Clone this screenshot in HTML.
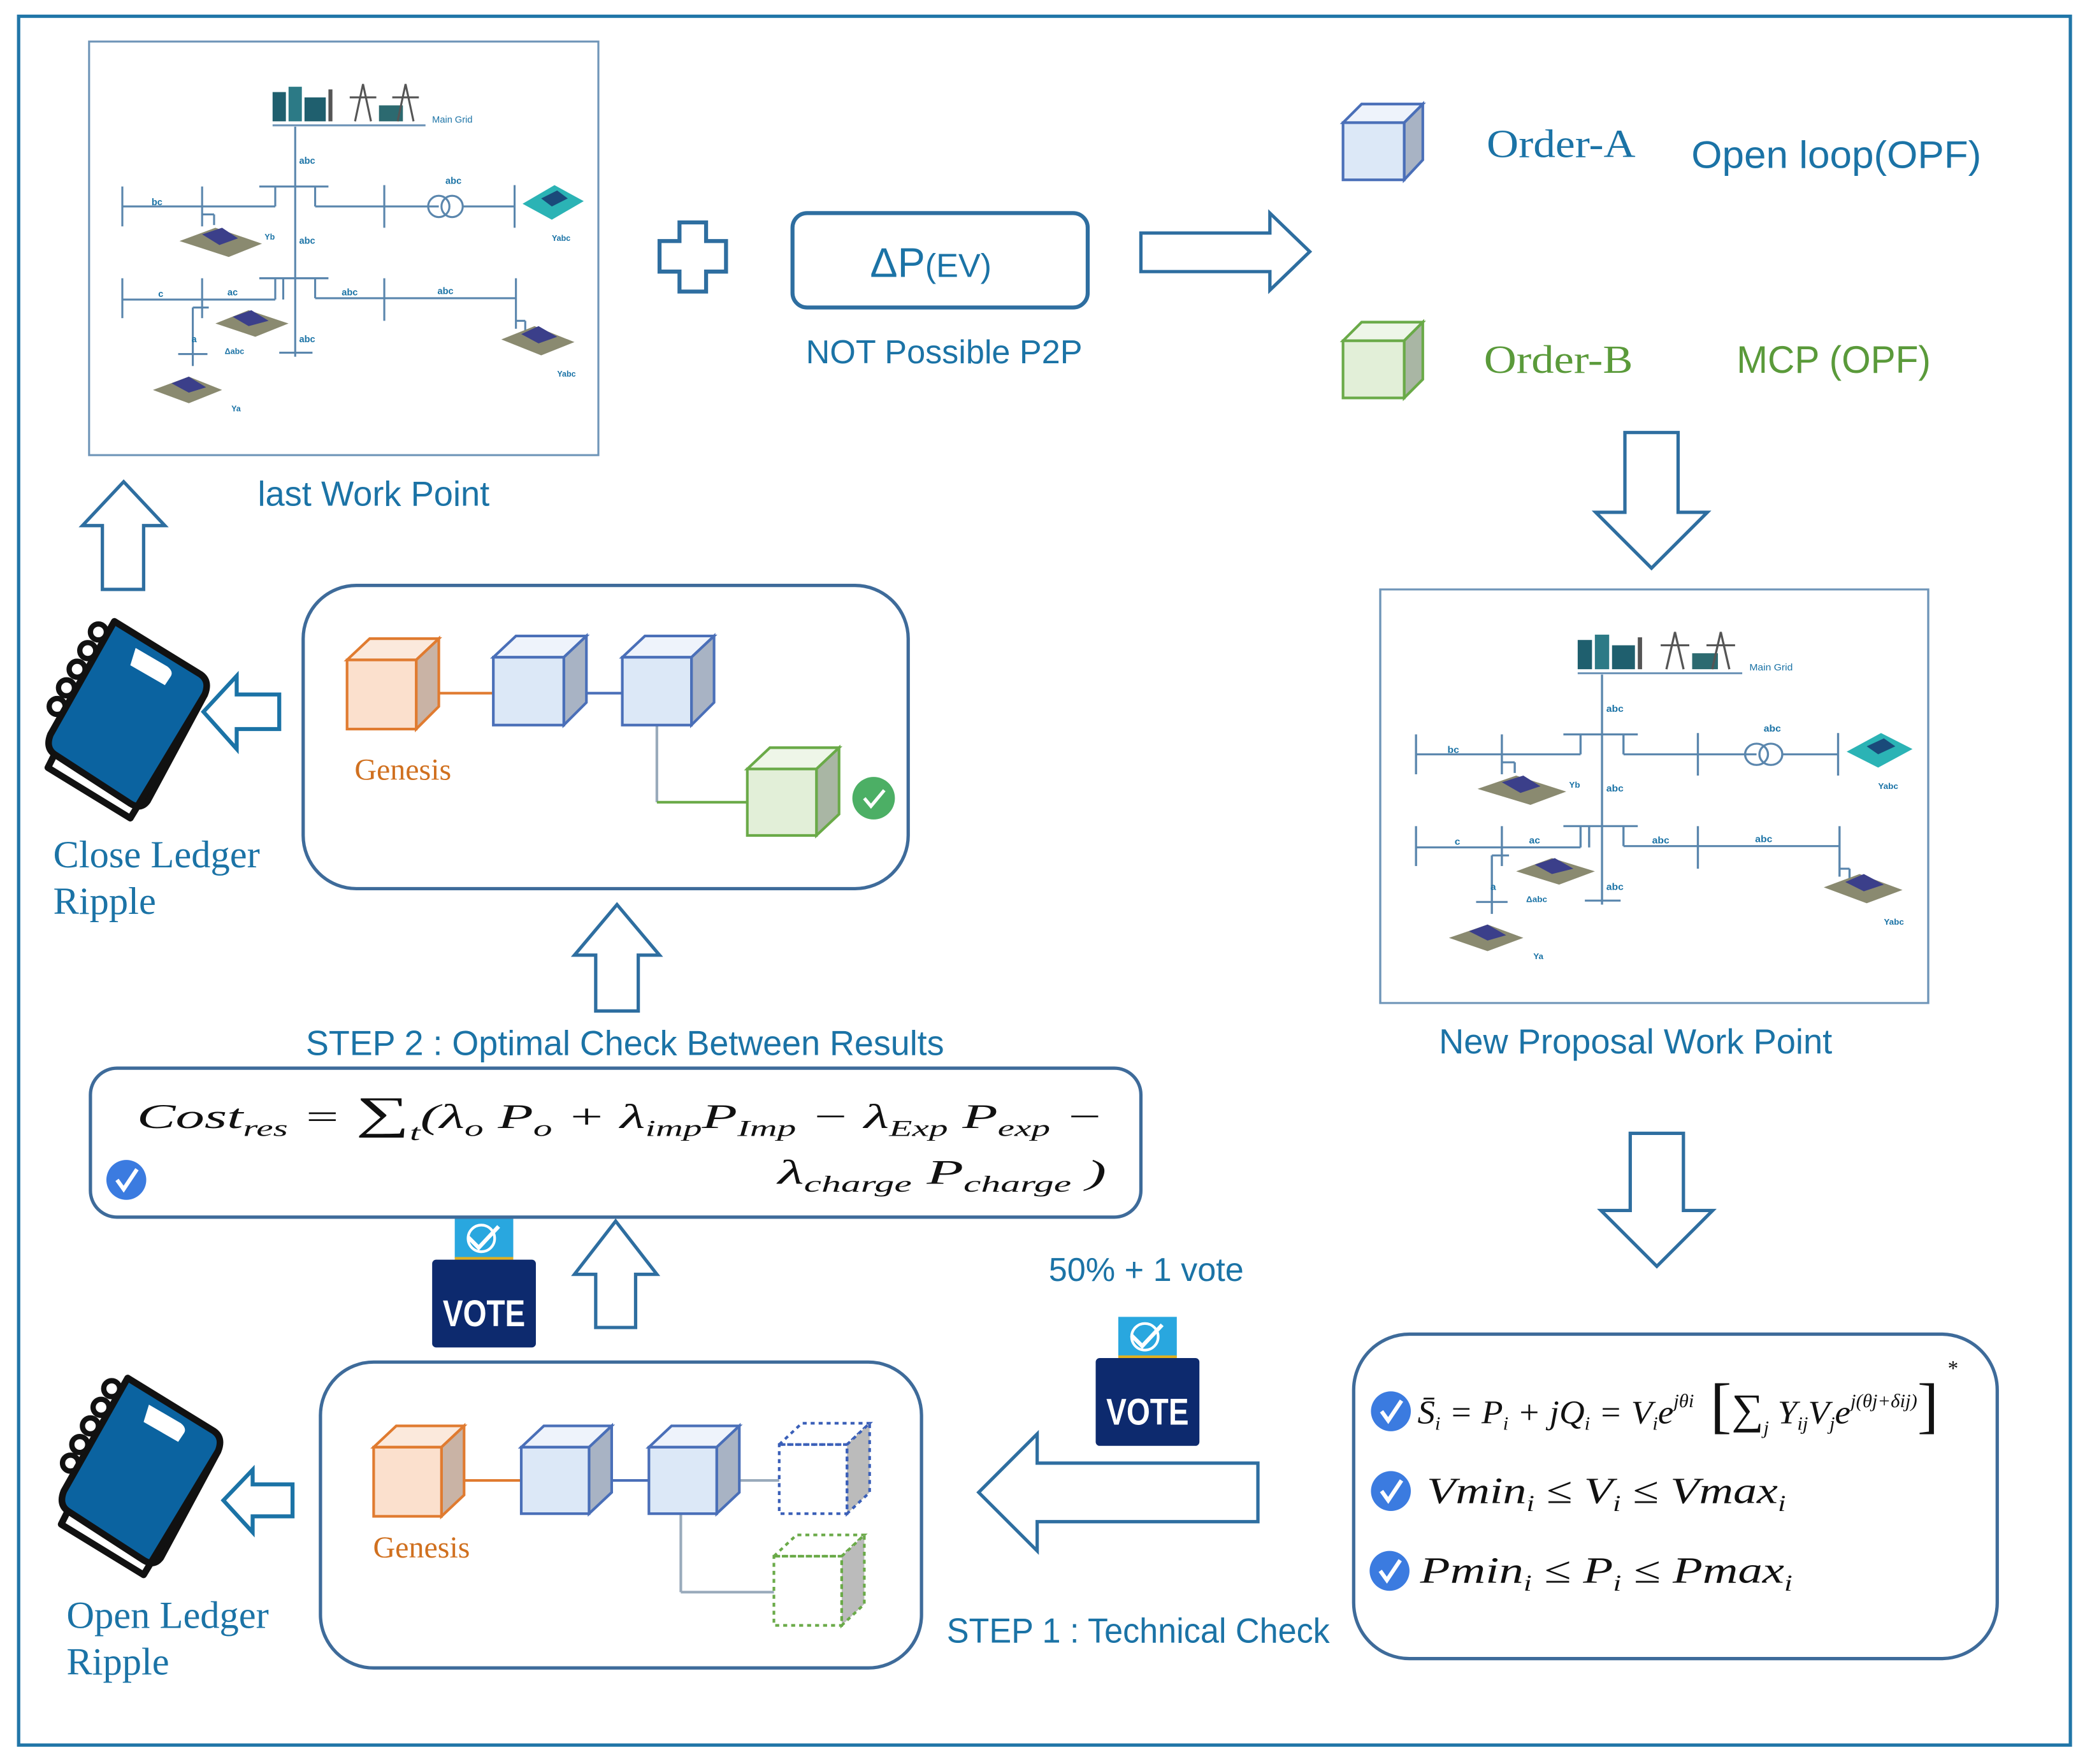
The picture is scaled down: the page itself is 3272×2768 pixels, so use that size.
<!DOCTYPE html>
<html><head><meta charset="utf-8"><style>
html,body{margin:0;padding:0;background:#fff}
svg{display:block}
.s{font-family:"Liberation Sans",sans-serif;fill:#1b73a6}
.r{font-family:"Liberation Serif",serif}
.m{font-family:"Liberation Serif",serif;font-style:italic;fill:#111}
.g{font-family:"Liberation Sans",sans-serif;fill:#1b73a6;font-size:7px;font-weight:bold}
</style></head><body>
<svg width="3272" height="2768" viewBox="0 0 1568 1326" xmlns="http://www.w3.org/2000/svg">
<defs>
<g id="grid">
  <rect x="0" y="0" width="383" height="311" fill="#fff" stroke="#6f95b8" stroke-width="1.5"/>
  <rect x="138" y="38" width="10" height="22" fill="#1f5f6e"/><rect x="150" y="34" width="10" height="26" fill="#2c7a86"/>
  <rect x="162" y="42" width="16" height="18" fill="#1f5f6e"/><rect x="180" y="36" width="3" height="24" fill="#555"/>
  <path d="M200 60 L206 32 L212 60 M196 42 L216 42" stroke="#555" fill="none" stroke-width="1.5"/>
  <rect x="218" y="48" width="18" height="12" fill="#2c6a70"/>
  <path d="M232 60 L238 32 L244 60 M228 42 L248 42" stroke="#555" fill="none" stroke-width="1.5"/>
  <line x1="138" y1="63" x2="253" y2="63" stroke="#6f95b8" stroke-width="1.5"/>
  <text x="258" y="61" class="g" style="font-weight:normal">Main Grid</text>
  <g stroke="#5a86ad" stroke-width="1.5" fill="none">
    <line x1="155" y1="64" x2="155" y2="237"/>
    <line x1="128" y1="109" x2="180" y2="109"/>
    <line x1="25" y1="109" x2="25" y2="139"/><line x1="85" y1="109" x2="85" y2="139"/>
    <line x1="25" y1="124" x2="140" y2="124"/><line x1="140" y1="124" x2="140" y2="109"/>
    <line x1="85" y1="130" x2="94" y2="130"/><line x1="94" y1="130" x2="94" y2="138"/>
    <line x1="170" y1="109" x2="170" y2="124"/><line x1="170" y1="124" x2="263" y2="124"/>
    <line x1="222" y1="108" x2="222" y2="140"/>
    <circle cx="263" cy="124" r="8"/><circle cx="273" cy="124" r="8"/>
    <line x1="281" y1="124" x2="320" y2="124"/><line x1="320" y1="108" x2="320" y2="140"/>
    <line x1="128" y1="178" x2="180" y2="178"/>
    <line x1="25" y1="178" x2="25" y2="208"/><line x1="85" y1="178" x2="85" y2="208"/>
    <line x1="25" y1="194" x2="140" y2="194"/><line x1="140" y1="194" x2="140" y2="178"/><line x1="146" y1="194" x2="146" y2="178"/>
    <line x1="170" y1="178" x2="170" y2="193"/><line x1="170" y1="193" x2="321" y2="193"/>
    <line x1="222" y1="178" x2="222" y2="210"/><line x1="321" y1="178" x2="321" y2="216"/>
    <line x1="321" y1="210" x2="328" y2="210"/><line x1="328" y1="210" x2="328" y2="218"/>
    <line x1="90" y1="200" x2="78" y2="200"/><line x1="78" y1="200" x2="78" y2="235"/>
    <line x1="67" y1="235" x2="89" y2="235"/><line x1="78" y1="235" x2="78" y2="244"/>
    <line x1="143" y1="234" x2="168" y2="234"/>
  </g>
  <g>
    <path d="M68 150 L95 140 L130 152 L105 162 Z" fill="#8a8a70"/><path d="M85 145 L100 140 L112 148 L98 153 Z" fill="#3b3f8a"/>
    <path d="M95 212 L120 202 L150 212 L125 222 Z" fill="#8a8a70"/><path d="M108 207 L122 202 L135 210 L120 214 Z" fill="#3b3f8a"/>
    <path d="M48 262 L75 252 L100 262 L75 272 Z" fill="#8a8a70"/><path d="M62 257 L75 252 L88 260 L75 264 Z" fill="#3b3f8a"/>
    <path d="M310 224 L335 214 L365 226 L340 236 Z" fill="#8a8a70"/><path d="M325 220 L338 214 L352 222 L338 227 Z" fill="#3b3f8a"/>
    <path d="M326 122 L350 108 L372 120 L348 134 Z" fill="#2bb3b5"/><path d="M340 118 L352 112 L360 118 L348 124 Z" fill="#1a4a7a"/>
  </g>
  <text x="158" y="92" class="g">abc</text><text x="268" y="107" class="g">abc</text>
  <text x="47" y="123" class="g">bc</text><text x="158" y="152" class="g">abc</text>
  <text x="52" y="192" class="g">c</text><text x="104" y="191" class="g">ac</text>
  <text x="190" y="191" class="g">abc</text><text x="262" y="190" class="g">abc</text>
  <text x="158" y="226" class="g">abc</text><text x="77" y="226" class="g">a</text>
  <text x="132" y="149" class="g" style="font-size:6px">Yb</text><text x="348" y="150" class="g" style="font-size:6px">Yabc</text>
  <text x="102" y="235" class="g" style="font-size:6px">Δabc</text><text x="107" y="278" class="g" style="font-size:6px">Ya</text>
  <text x="352" y="252" class="g" style="font-size:6px">Yabc</text>
</g>
<g id="chk"><circle r="15" fill="#3b7be0"/><path d="M-7 0 L-2 7 L8 -8" stroke="#fff" stroke-width="3" fill="none"/></g>
<g id="book">
  <path d="M50 0 L115 40 Q122 45 118 55 L75 135 Q70 142 62 137 L5 100 Q-2 95 2 85 Z" fill="#0b63a0" stroke="#111" stroke-width="5" stroke-linejoin="round"/>
  <path d="M5 100 L0 110 L62 148 L118 55" fill="none" stroke="#111" stroke-width="5" stroke-linejoin="round"/>
  <path d="M66 20 L90 34 Q95 38 92 42 L88 48 L62 33 Z" fill="#fff"/>
  <g fill="none" stroke="#111" stroke-width="4"><circle cx="38" cy="8" r="6"/><circle cx="30" cy="22" r="6"/><circle cx="22" cy="36" r="6"/><circle cx="14" cy="50" r="6"/><circle cx="7" cy="64" r="6"/></g>
</g>
<g id="vote">
  <rect x="17" y="0" width="44" height="30" fill="#29a7df"/>
  <path d="M27 14 L35 22 L50 6" stroke="#fff" stroke-width="3" fill="none"/>
  <circle cx="37" cy="15" r="10" fill="none" stroke="#fff" stroke-width="2"/>
  <rect x="17" y="29" width="44" height="2" fill="#e0b020"/>
  <rect x="0" y="31" width="78" height="66" rx="3" fill="#0d2a6e"/>
  <text x="39" y="81" text-anchor="middle" font-family="Liberation Sans,sans-serif" font-weight="bold" font-size="28" fill="#fff" textLength="62" lengthAdjust="spacingAndGlyphs">VOTE</text>
</g>
</defs>

<rect x="14" y="12" width="1543" height="1300" fill="none" stroke="#2176a8" stroke-width="2.5"/>

<use href="#grid" transform="translate(67,31)"/>
<use href="#grid" transform="translate(1038,443) scale(1.076,1)"/>
<text x="281" y="380" class="s" font-size="26" text-anchor="middle">last Work Point</text>
<text x="1230" y="792" class="s" font-size="26" text-anchor="middle">New Proposal Work Point</text>

<path d="M511 167 H531 V181 H546 V204 H531 V219 H511 V204 H496 V181 H511 Z" fill="none" stroke="#2e6ea0" stroke-width="3"/>
<rect x="596" y="160" width="222" height="71" rx="11" fill="none" stroke="#2e6ea0" stroke-width="3"/>
<text x="700" y="208" class="s" font-size="31" text-anchor="middle">ΔP<tspan font-size="25">(EV)</tspan></text>
<text x="710" y="273" class="s" font-size="25" text-anchor="middle">NOT Possible P2P</text>
<path d="M858 175 H955 V160 L985 189 L955 218 V204 H858 Z" fill="#fff" stroke="#2e6ea0" stroke-width="2.5"/>

<g stroke="#4a6fb8" stroke-width="2"><path d="M1010 92 L1024 78 L1070 78 L1056 92 Z" fill="#eef3fb"/><path d="M1056 92 L1070 78 L1070 120 L1056 135 Z" fill="#a8b3c4"/><rect x="1010" y="92" width="46" height="43" fill="#dce8f7"/></g>
<g stroke="#6aaa48" stroke-width="2"><path d="M1010 256 L1024 242 L1070 242 L1056 256 Z" fill="#eef6e8"/><path d="M1056 256 L1070 242 L1070 285 L1056 299 Z" fill="#a9b6a4"/><rect x="1010" y="256" width="46" height="43" fill="#e2efd8"/></g>
<text x="1118" y="118" class="r" font-size="30" fill="#1b73a6" textLength="112" lengthAdjust="spacingAndGlyphs">Order-A</text>
<text x="1272" y="126" class="s" font-size="29" textLength="218" lengthAdjust="spacingAndGlyphs">Open loop(OPF)</text>
<text x="1116" y="280" class="r" font-size="30" fill="#5a9a3a" textLength="112" lengthAdjust="spacingAndGlyphs">Order-B</text>
<text x="1306" y="280" font-family="Liberation Sans,sans-serif" font-size="29" fill="#5a9a3a" textLength="146" lengthAdjust="spacingAndGlyphs">MCP (OPF)</text>

<path d="M1222 325 H1262 V385 H1284 L1242 427 L1200 385 H1222 Z" fill="#fff" stroke="#2e6ea0" stroke-width="2.5"/>
<path d="M1226 852 H1266 V910 H1288 L1246 952 L1204 910 H1226 Z" fill="#fff" stroke="#2e6ea0" stroke-width="2.5"/>

<rect x="1018" y="1003" width="484" height="244" rx="42" fill="#fff" stroke="#3e6b9a" stroke-width="2.5"/>
<use href="#chk" transform="translate(1046,1061)"/>
<use href="#chk" transform="translate(1046,1121)"/>
<use href="#chk" transform="translate(1045,1181)"/>
<text x="1066" y="1070" class="m" font-size="25" textLength="392" lengthAdjust="spacingAndGlyphs">S̄<tspan font-size="14" dy="5">i</tspan><tspan dy="-5"> = P</tspan><tspan font-size="14" dy="5">i</tspan><tspan dy="-5"> + jQ</tspan><tspan font-size="14" dy="5">i</tspan><tspan dy="-5"> = V</tspan><tspan font-size="14" dy="5">i</tspan><tspan dy="-5">e</tspan><tspan font-size="14" dy="-12">jθi</tspan><tspan dy="14" font-size="46" font-style="normal"> [</tspan><tspan dy="-2" font-style="normal" font-size="32">∑</tspan><tspan font-size="14" dy="8">j</tspan><tspan dy="-8"> Y</tspan><tspan font-size="14" dy="5">ij</tspan><tspan dy="-5">V</tspan><tspan font-size="14" dy="5">j</tspan><tspan dy="-5">e</tspan><tspan font-size="14" dy="-12">j(θj+δij)</tspan><tspan dy="14" font-size="46" font-style="normal">]</tspan></text>
<text x="1464" y="1034" class="m" font-size="16">*</text>
<text x="1073" y="1130" class="m" font-size="28" textLength="270" lengthAdjust="spacingAndGlyphs">Vmin<tspan font-size="17" dy="6">i</tspan><tspan dy="-6"> ≤ V</tspan><tspan font-size="17" dy="6">i</tspan><tspan dy="-6"> ≤ Vmax</tspan><tspan font-size="17" dy="6">i</tspan></text>
<text x="1068" y="1190" class="m" font-size="28" textLength="280" lengthAdjust="spacingAndGlyphs">Pmin<tspan font-size="17" dy="6">i</tspan><tspan dy="-6"> ≤ P</tspan><tspan font-size="17" dy="6">i</tspan><tspan dy="-6"> ≤ Pmax</tspan><tspan font-size="17" dy="6">i</tspan></text>

<text x="712" y="1235" class="s" font-size="26" textLength="288" lengthAdjust="spacingAndGlyphs">STEP 1 : Technical Check</text>
<path d="M946 1100 V1144 H780 V1166 L736 1122 L780 1078 V1100 Z" fill="#fff" stroke="#2e6ea0" stroke-width="2.5"/>
<text x="862" y="963" class="s" font-size="25" text-anchor="middle">50% + 1 vote</text>
<use href="#vote" transform="translate(824,990)"/>
<use href="#vote" transform="translate(325,916)"/>

<rect x="241" y="1024" width="452" height="230" rx="40" fill="#fff" stroke="#3e6b9a" stroke-width="2.5"/>
<g stroke-width="2">
  <line x1="332" y1="1113" x2="392" y2="1113" stroke="#e07b30"/>
  <line x1="444" y1="1113" x2="488" y2="1113" stroke="#4a6fb8"/>
  <line x1="540" y1="1113" x2="586" y2="1113" stroke="#9ab"/>
  <line x1="512" y1="1138" x2="512" y2="1197" stroke="#9ab"/><line x1="512" y1="1197" x2="582" y2="1197" stroke="#9ab"/>
</g>
<g stroke="#e07b30" stroke-width="2"><path d="M281 1088 L298 1072 L349 1072 L332 1088 Z" fill="#fbe9dc"/><path d="M332 1088 L349 1072 L349 1124 L332 1140 Z" fill="#c9b3a5"/><rect x="281" y="1088" width="51" height="52" fill="#fbe0cd"/></g>
<g stroke="#4a6fb8" stroke-width="2"><path d="M392 1088 L409 1072 L460 1072 L443 1088 Z" fill="#eef3fb"/><path d="M443 1088 L460 1072 L460 1122 L443 1138 Z" fill="#a8b3c4"/><rect x="392" y="1088" width="51" height="50" fill="#dce8f7"/></g>
<g stroke="#4a6fb8" stroke-width="2"><path d="M488 1088 L505 1072 L556 1072 L539 1088 Z" fill="#eef3fb"/><path d="M539 1088 L556 1072 L556 1122 L539 1138 Z" fill="#a8b3c4"/><rect x="488" y="1088" width="51" height="50" fill="#dce8f7"/></g>
<g stroke="#3a5fb8" stroke-width="2" stroke-dasharray="3,3" fill="none"><path d="M586 1086 L603 1070 L654 1070 L637 1086 Z"/><path d="M637 1086 L654 1070 L654 1122 L637 1138 Z" fill="#bbb"/><rect x="586" y="1086" width="51" height="52"/></g>
<g stroke="#6aaa48" stroke-width="2" stroke-dasharray="3,3" fill="none"><path d="M582 1170 L599 1154 L650 1154 L633 1170 Z"/><path d="M633 1170 L650 1154 L650 1206 L633 1222 Z" fill="#bbb"/><rect x="582" y="1170" width="51" height="52"/></g>
<text x="317" y="1171" class="r" font-size="23" fill="#d0701f" text-anchor="middle">Genesis</text>

<use href="#book" transform="translate(46,1036)"/>
<path d="M220 1116 V1140 H190 V1152 L168 1128 L190 1105 V1116 Z" fill="#fff" stroke="#1b73a6" stroke-width="3"/>
<text x="50" y="1224" class="r" font-size="29" fill="#1b73a6">Open Ledger</text>
<text x="50" y="1259" class="r" font-size="29" fill="#1b73a6">Ripple</text>

<path d="M448 998 V958 H432 L463 918 L494 958 H478 V998 Z" fill="#fff" stroke="#2e6ea0" stroke-width="2.5"/>
<path d="M448 760 V718 H432 L464 680 L496 718 H480 V760 Z" fill="#fff" stroke="#2e6ea0" stroke-width="2.5"/>
<path d="M77 443 V395 H62 L93 362 L124 395 H108 V443 Z" fill="#fff" stroke="#2e6ea0" stroke-width="2.5"/>

<rect x="68" y="803" width="790" height="112" rx="20" fill="#fff" stroke="#3e6b9a" stroke-width="2.5"/>
<use href="#chk" transform="translate(95,887)"/>
<text x="103" y="848" class="m" font-size="26" textLength="727" lengthAdjust="spacingAndGlyphs">Cost<tspan font-size="17" dy="6">res</tspan><tspan dy="-6"> = </tspan><tspan font-style="normal" font-size="34">∑</tspan><tspan font-size="17" dy="9">t</tspan><tspan dy="-9">(λ</tspan><tspan font-size="17" dy="6">o</tspan><tspan dy="-6"> P</tspan><tspan font-size="17" dy="6">o</tspan><tspan dy="-6"> + λ</tspan><tspan font-size="17" dy="6">imp</tspan><tspan dy="-6">P</tspan><tspan font-size="17" dy="6">Imp</tspan><tspan dy="-6"> − λ</tspan><tspan font-size="17" dy="6">Exp</tspan><tspan dy="-6"> P</tspan><tspan font-size="17" dy="6">exp</tspan><tspan dy="-6"> −</tspan></text>
<text x="585" y="890" class="m" font-size="26" textLength="247" lengthAdjust="spacingAndGlyphs">λ<tspan font-size="17" dy="6">charge</tspan><tspan dy="-6"> P</tspan><tspan font-size="17" dy="6">charge</tspan><tspan dy="-6"> )</tspan></text>
<text x="470" y="793" class="s" font-size="26" text-anchor="middle" textLength="480" lengthAdjust="spacingAndGlyphs">STEP 2 : Optimal Check Between Results</text>

<rect x="228" y="440" width="455" height="228" rx="40" fill="#fff" stroke="#3e6b9a" stroke-width="2.5"/>
<g stroke-width="2">
  <line x1="313" y1="521" x2="371" y2="521" stroke="#e07b30"/>
  <line x1="424" y1="521" x2="468" y2="521" stroke="#4a6fb8"/>
  <line x1="494" y1="545" x2="494" y2="603" stroke="#9ab"/><line x1="494" y1="603" x2="562" y2="603" stroke="#6aaa48"/>
</g>
<g stroke="#e07b30" stroke-width="2"><path d="M261 496 L278 480 L330 480 L313 496 Z" fill="#fbe9dc"/><path d="M313 496 L330 480 L330 531 L313 548 Z" fill="#c9b3a5"/><rect x="261" y="496" width="52" height="52" fill="#fbe0cd"/></g>
<g stroke="#4a6fb8" stroke-width="2"><path d="M371 494 L388 478 L441 478 L424 494 Z" fill="#eef3fb"/><path d="M424 494 L441 478 L441 528 L424 545 Z" fill="#a8b3c4"/><rect x="371" y="494" width="53" height="51" fill="#dce8f7"/></g>
<g stroke="#4a6fb8" stroke-width="2"><path d="M468 494 L485 478 L537 478 L520 494 Z" fill="#eef3fb"/><path d="M520 494 L537 478 L537 528 L520 545 Z" fill="#a8b3c4"/><rect x="468" y="494" width="52" height="51" fill="#dce8f7"/></g>
<g stroke="#6aaa48" stroke-width="2"><path d="M562 578 L579 562 L631 562 L614 578 Z" fill="#eef6e8"/><path d="M614 578 L631 562 L631 612 L614 628 Z" fill="#a9b6a4"/><rect x="562" y="578" width="52" height="50" fill="#e2efd8"/></g>
<circle cx="657" cy="600" r="16" fill="#4caf65"/><path d="M650 600 L655 606 L665 594" stroke="#fff" stroke-width="2.5" fill="none"/>
<text x="303" y="586" class="r" font-size="23" fill="#d0701f" text-anchor="middle">Genesis</text>

<use href="#book" transform="translate(36,467)"/>
<path d="M210 522 V548 H178 V563 L153 535 L178 508 V522 Z" fill="#fff" stroke="#1b73a6" stroke-width="3"/>
<text x="40" y="652" class="r" font-size="29" fill="#1b73a6">Close Ledger</text>
<text x="40" y="687" class="r" font-size="29" fill="#1b73a6">Ripple</text>
</svg>
</body></html>
